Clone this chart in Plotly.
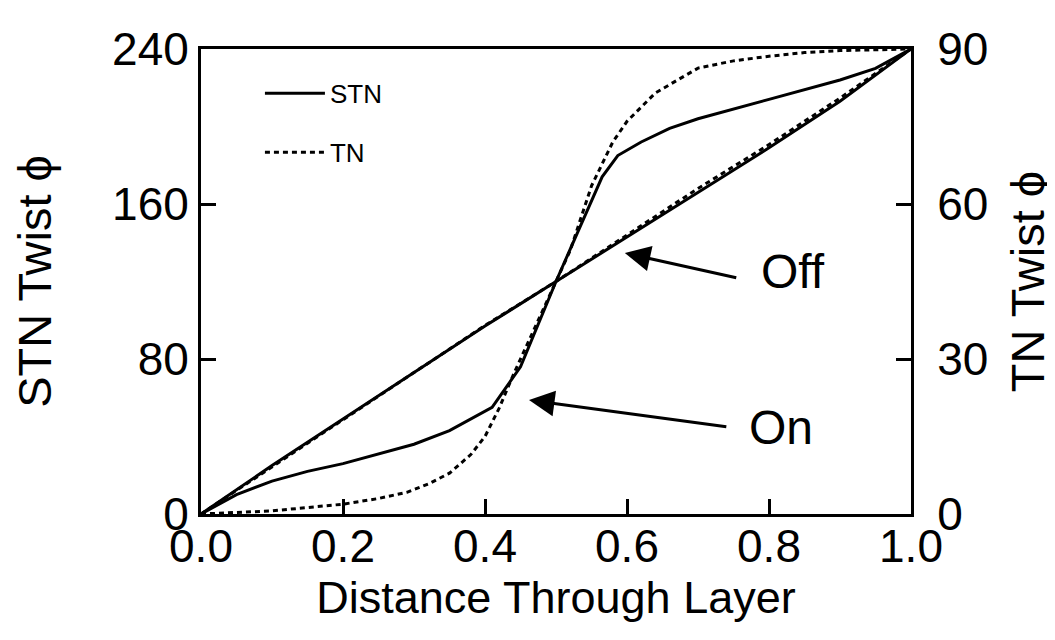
import plotly.graph_objects as go

# ---- data ----
x_off = [0.0, 0.1, 0.2, 0.3, 0.4, 0.5, 0.6, 0.7, 0.8, 0.9, 1.0]
stn_off = [0, 25, 49, 73, 97, 120, 143, 166, 189, 213, 240]
tn_off = [0, 9.1, 18.2, 27.3, 36.5, 45, 54, 63, 71.5, 80.5, 90]

x_stn_on = [0.0, 0.05, 0.1, 0.15, 0.2, 0.25, 0.3, 0.35, 0.41, 0.45, 0.5, 0.53, 0.55,
            0.565, 0.587, 0.62, 0.66, 0.7, 0.8, 0.9, 0.95, 1.0]
stn_on = [0, 10, 17, 22, 26, 31, 36, 43, 55, 76, 120, 145, 162,
          174, 185, 192, 199, 204, 214, 224, 230, 240]

x_tn_on = [0.0, 0.1, 0.2, 0.25, 0.29, 0.32, 0.35, 0.38, 0.4, 0.42, 0.44, 0.46, 0.48, 0.5,
           0.52, 0.55, 0.58, 0.6, 0.64, 0.7, 0.75, 0.8, 0.85, 0.9, 0.95, 1.0]
tn_on = [0, 0.6, 1.9, 3, 4.2, 5.8, 7.9, 11.5, 15, 20.5, 27, 33, 39, 45,
         51, 63.5, 72, 76, 81.5, 86.3, 87.7, 88.6, 89.3, 89.7, 89.9, 90]

x_ticks = [0.0, 0.2, 0.4, 0.6, 0.8, 1.0]
stn_ticks = [0, 80, 160, 240]
tn_ticks = [0, 30, 60, 90]

FONT = "Liberation Sans, Arial, Helvetica, sans-serif"
LW = 3

fig = go.Figure()
fig.add_trace(go.Scatter(x=x_off, y=stn_off, mode="lines", name="STN",
                         line=dict(color="black", width=LW), legendgroup="stn", showlegend=True))
fig.add_trace(go.Scatter(x=x_stn_on, y=stn_on, mode="lines", name="STN",
                         line=dict(color="black", width=LW), legendgroup="stn", showlegend=False))
fig.add_trace(go.Scatter(x=x_off, y=tn_off, mode="lines", name="TN", yaxis="y2",
                         line=dict(color="black", width=LW, dash="5px,4px"), legendgroup="tn", showlegend=True))
fig.add_trace(go.Scatter(x=x_tn_on, y=tn_on, mode="lines", name="TN", yaxis="y2",
                         line=dict(color="black", width=LW, dash="5px,4px"), legendgroup="tn", showlegend=False))

axis_common = dict(showgrid=False, zeroline=False, showline=True, linecolor="black", linewidth=3,
                   ticks="inside", tickcolor="black", tickwidth=2.5, ticklen=15,
                   tickfont=dict(family=FONT, size=46, color="black"))

fig.update_layout(
    width=1055, height=640,
    margin=dict(l=193, r=152, t=41, b=134),
    paper_bgcolor="white", plot_bgcolor="white",
    font=dict(family=FONT, color="black"),
    xaxis=dict(range=[0, 1], tickvals=x_ticks, ticktext=[f"{v:.1f}" for v in x_ticks],
               mirror=True, ticklabelstandoff=-10,
               title=dict(text="Distance Through Layer", font=dict(size=45), standoff=6),
               **axis_common),
    yaxis=dict(range=[0, 240], tickvals=stn_ticks,
               title=dict(text="STN Twist \u03d5", font=dict(size=47), standoff=50),
               **axis_common),
    yaxis2=dict(range=[0, 90], tickvals=tn_ticks, overlaying="y", side="right", ticklabelstandoff=14,
                title=dict(text="TN Twist \u03d5", font=dict(size=47), standoff=24),
                **axis_common),
    legend=dict(x=0.083, y=0.955, xanchor="left", yanchor="top", bgcolor="rgba(0,0,0,0)",
                font=dict(family=FONT, size=26, color="black"), itemwidth=60, tracegroupgap=22),
    showlegend=True,
)

# arrows (tail -> tip) and labels
fig.add_annotation(x=0.597, y=134.7, ax=0.756, ay=121.8, xref="x", yref="y", axref="x", ayref="y",
                   text="", showarrow=True, arrowhead=2, arrowsize=1.7, arrowwidth=3, arrowcolor="black")
fig.add_annotation(x=0.834, y=125.4, xref="x", yref="y", text="Off", showarrow=False,
                   font=dict(family=FONT, size=48, color="black"))
fig.add_annotation(x=0.462, y=58.8, ax=0.742, ay=44.9, xref="x", yref="y", axref="x", ayref="y",
                   text="", showarrow=True, arrowhead=2, arrowsize=1.7, arrowwidth=3, arrowcolor="black")
fig.add_annotation(x=0.817, y=44.4, xref="x", yref="y", text="On", showarrow=False,
                   font=dict(family=FONT, size=48, color="black"))

fig.write_html("out.html")
